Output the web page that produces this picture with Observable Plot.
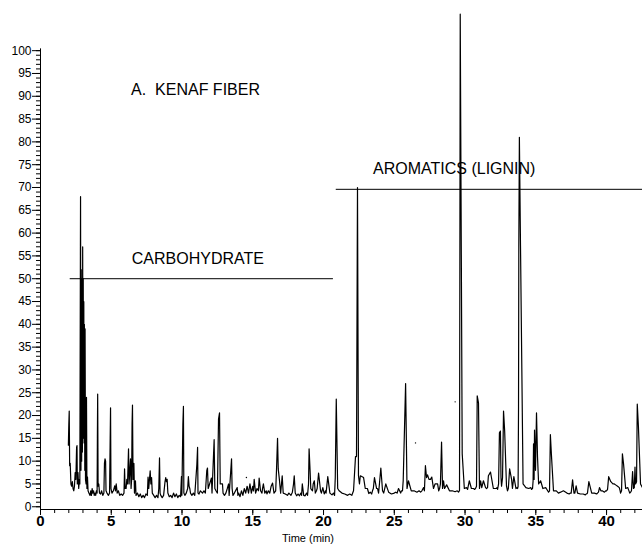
<!DOCTYPE html>
<html>
<head>
<meta charset="utf-8">
<script src="https://cdn.jsdelivr.net/npm/d3@7"></script>
<script src="https://cdn.jsdelivr.net/npm/@observablehq/plot@0.6"></script>
<style>
  html, body { margin: 0; padding: 0; background: #fff; }
  #chart svg { display: block; }
</style>
</head>
<body>
<div id="chart"></div>
<script>
// Chromatogram: retention time (min) and relative abundance (%)
const time = [
  1.97, 2.0, 2.03, 2.06, 2.1, 2.15, 2.2, 2.25, 2.3, 2.35, 2.4, 2.45, 2.5, 2.55, 2.58, 2.6, 2.65, 2.7, 2.75,
  2.78, 2.83, 2.86, 2.88, 2.91, 2.93, 2.96, 2.98, 3.0, 3.02, 3.04, 3.06, 3.08, 3.1, 3.13, 3.15, 3.18, 3.22, 3.25, 3.28,
  3.32, 3.36, 3.42, 3.5, 3.55, 3.6, 3.65, 3.7, 3.75, 3.8, 3.85, 3.9, 3.95, 4.0, 4.02, 4.04, 4.07, 4.12, 4.17, 4.25,
  4.32, 4.4, 4.48, 4.52, 4.56, 4.6, 4.63, 4.7, 4.8, 4.88, 4.92, 4.95, 4.98, 5.05, 5.15, 5.25, 5.3, 5.35, 5.42, 5.5,
  5.6, 5.7, 5.8, 5.9, 5.94, 5.98, 6.05, 6.1, 6.15, 6.22, 6.26, 6.36, 6.4, 6.44, 6.47, 6.5, 6.54, 6.6, 6.64, 6.71,
  6.75, 6.85, 6.95, 7.05, 7.15, 7.25, 7.35, 7.45, 7.55, 7.6, 7.65, 7.7, 7.75, 7.8, 7.85, 7.9, 8.0, 8.1, 8.2, 8.3,
  8.36, 8.41, 8.45, 8.5, 8.6, 8.7, 8.8, 8.85, 8.9, 8.95, 9.0, 9.1, 9.2, 9.3, 9.4, 9.5, 9.6, 9.7, 9.8, 9.9,
  9.96, 9.99, 10.06, 10.1, 10.13, 10.2, 10.3, 10.4, 10.45, 10.5, 10.55, 10.6, 10.7, 10.8, 10.9, 11.05, 11.1, 11.13,
  11.2, 11.3, 11.45, 11.55, 11.65, 11.75, 11.8, 11.85, 11.95, 12.08, 12.12, 12.27, 12.32, 12.4, 12.5, 12.58, 12.65,
  12.7, 12.78, 12.86, 12.9, 13.0, 13.1, 13.2, 13.29, 13.33, 13.5, 13.54, 13.6, 13.7, 13.9, 13.95, 14.0, 14.1, 14.2,
  14.3, 14.4, 14.5, 14.6, 14.7, 14.75, 14.8, 14.9, 15.0, 15.05, 15.1, 15.2, 15.3, 15.4, 15.45, 15.55, 15.65, 15.69,
  15.75, 15.85, 15.95, 16.0, 16.1, 16.2, 16.3, 16.4, 16.5, 16.62, 16.68, 16.75, 16.8, 16.88, 16.97, 17.03, 17.08,
  17.15, 17.3, 17.45, 17.55, 17.7, 17.8, 17.88, 17.93, 18.0, 18.1, 18.2, 18.3, 18.4, 18.45, 18.5, 18.6, 18.7, 18.8,
  18.87, 18.94, 18.98, 19.05, 19.1, 19.22, 19.27, 19.35, 19.42, 19.5, 19.55, 19.65, 19.79, 19.85, 19.95, 20.05,
  20.14, 20.18, 20.3, 20.45, 20.6, 20.7, 20.78, 20.83, 20.9, 21.0, 21.1, 21.3, 21.5, 21.7, 21.85, 22.0, 22.06,
  22.12, 22.26, 22.33, 22.4, 22.47, 22.54, 22.6, 22.83, 22.95, 23.1, 23.2, 23.3, 23.4, 23.46, 23.52, 23.6, 23.75,
  23.82, 23.89, 23.95, 24.05, 24.17, 24.25, 24.4, 24.6, 24.8, 25.0, 25.1, 25.2, 25.3, 25.45, 25.51, 25.58, 25.63,
  25.8, 25.9, 26.0, 26.2, 26.4, 26.6, 26.75, 26.86, 26.95, 27.07, 27.13, 27.2, 27.28, 27.35, 27.45, 27.56, 27.65,
  27.77, 27.88, 28.06, 28.14, 28.2, 28.26, 28.34, 28.41, 28.48, 28.55, 28.7, 28.9, 29.1, 29.3, 29.45, 29.54, 29.61,
  29.66, 29.8, 29.95, 30.1, 30.18, 30.3, 30.45, 30.6, 30.68, 30.74, 30.81, 30.86, 30.95, 31.02, 31.1, 31.18, 31.3,
  31.45, 31.52, 31.59, 31.65, 31.8, 32.0, 32.2, 32.26, 32.3, 32.37, 32.43, 32.5, 32.54, 32.58, 32.65, 32.72, 32.8,
  32.93, 33.0, 33.06, 33.15, 33.29, 33.35, 33.45, 33.6, 33.67, 33.71, 33.75, 33.78, 33.8, 33.84, 33.92, 34.1, 34.3,
  34.5, 34.65, 34.7, 34.77, 34.81, 34.84, 34.88, 34.91, 34.98, 35.05, 35.12, 35.2, 35.34, 35.5, 35.7, 35.84, 35.9,
  35.97, 36.03, 36.1, 36.25, 36.45, 36.6, 36.75, 36.95, 37.2, 37.36, 37.43, 37.5, 37.6, 37.7, 37.76, 37.85, 37.95,
  38.15, 38.35, 38.5, 38.55, 38.59, 38.65, 38.75, 38.95, 39.15, 39.3, 39.36, 39.43, 39.5, 39.6, 39.7, 39.85, 39.95,
  40.0, 40.07, 40.15, 40.3, 40.45, 40.55, 40.64, 40.78, 40.9, 40.96, 40.99, 41.06, 41.12, 41.2, 41.35, 41.5, 41.64,
  41.7, 41.76, 41.84, 41.9, 41.96, 42.01, 42.05, 42.12, 42.17, 42.25, 42.4, 42.54
];
const abundance = [
  13.5, 18, 21, 9, 9.5, 5, 4.5, 5.5, 4, 3.5, 4.5, 7.5, 6, 13, 13.4, 5, 7.5, 4, 6,
  5, 68, 8, 52, 10, 50, 12, 57, 15, 50, 18, 45, 14, 40, 8, 39, 6, 5, 24, 4,
  6.5, 3.5, 3, 2.5, 3.5, 2.5, 4, 3, 3.5, 2.5, 3, 2.5, 3.5, 3, 15, 24.7, 4.5, 5, 3, 2.8,
  3.5, 2.5, 3, 9.5, 10.5, 10, 3.5, 3, 2.5, 3, 14, 21.7, 4, 3, 3.5, 4.6, 3.5, 5, 3, 3.5,
  2.5, 2.8, 2.5, 3, 8.3, 4, 4, 6, 5, 12.7, 5, 10.5, 4, 6, 18, 22.3, 6, 9.5, 3, 5.7,
  2.5, 3, 2.2, 2.8, 2, 2.5, 2, 2.8, 2.5, 6.5, 4, 6, 7.9, 5, 6.4, 3, 2.5, 2, 2.5, 2,
  4, 10.7, 3, 2.5, 2, 2.5, 5.5, 6.4, 5.5, 6, 3, 2.2, 2.5, 2, 3, 2.2, 2.8, 2, 2.5, 2.2,
  6.6, 2.5, 18, 22, 3, 2.5, 3, 4, 6.6, 4.5, 4, 3, 2.5, 3, 2.5, 9.3, 13, 3,
  2.8, 3.5, 3, 3.5, 3, 7.9, 8.5, 4, 5, 6.3, 3, 14.7, 4, 3.5, 3, 19.2, 20.6,
  5, 5, 5, 3, 2.5, 3, 4, 5, 2.5, 10.5, 4, 2.5, 3, 4.2, 2.5, 3, 2.2, 3.5, 2.5,
  4, 3, 4.5, 3, 4, 5, 3, 4.5, 3.5, 6, 3, 4, 3.5, 6.3, 3.5, 3, 4, 5,
  3, 3.5, 2.8, 3.5, 3, 4.5, 5.2, 3, 3.5, 8.3, 15, 8.3, 6, 3, 5, 6.8, 3,
  2.8, 2.5, 3, 2.5, 3.2, 5, 6.8, 3, 2.4, 2.8, 2.4, 3, 2.5, 5, 2.5, 2.4, 3, 2.5, 5,
  12.7, 7.9, 4, 3.5, 5, 5.7, 3, 3.5, 4, 7.4, 3.5, 3, 4.2, 2.8, 3.5, 3,
  6.6, 3, 2.6, 3, 2.5, 6.4, 23.6, 4, 3.5, 3, 2.8, 2.5, 2.8, 2.5, 3, 3.5, 11,
  11, 70, 6.8, 5, 6.8, 6.4, 4, 4, 2.9, 3.2, 2.8, 3.5, 4, 6.4, 4, 4, 3,
  5, 8.5, 3.5, 3, 5, 3.2, 2.8, 3, 3.2, 3, 4, 3, 3.5, 3.5, 5.7, 27, 4,
  5.7, 3.5, 3.5, 3.2, 3.5, 3.2, 3.5, 4.2, 3.5, 9, 6.4, 7, 6, 6, 6.5, 4, 5,
  5, 3.5, 4, 5, 14.2, 4, 5.7, 4, 4.8, 3.5, 3.5, 3.3, 3.5, 3.2, 3.6, 108, 11.6,
  4, 4.2, 3.8, 5.7, 4, 4, 3.8, 4, 4.5, 24.3, 22.8, 4, 5.7, 4.2, 5.7, 4.2, 4,
  4.2, 6.8, 7.6, 4, 4, 4.2, 3.8, 5, 16.2, 16.6, 6.4, 4.5, 6.4, 21, 16.6, 4.5, 3.5,
  4, 8.3, 6, 4, 6.6, 4, 4.2, 4, 4.5, 22, 57, 81, 57, 5, 4.2, 4, 4.2,
  3.8, 4, 5.7, 13.8, 6, 16.8, 8, 20.6, 11, 5, 5.7, 4, 4.2, 3.5, 3.2, 3.5, 15.8,
  11.6, 3.5, 3.5, 3, 3.2, 3.5, 3, 2.8, 3, 3, 5.9, 3, 3, 4.6, 3, 2.8, 2.8,
  2.6, 2.8, 2.8, 3, 5.5, 3, 3, 2.8, 3, 3.2, 4.2, 3.5, 3.5, 3.2, 3.5, 3.5, 3.8,
  6.6, 5.5, 5, 5, 4.8, 4.5, 4.2, 3.5, 3, 3.5, 11.6, 9.4, 4, 4.2, 3, 3.2, 3.5,
  7.7, 4, 4.2, 8.7, 5, 5.5, 22.5, 17.7, 5, 4.2, 4.5, 3.5
];

// Stray specks visible in the scan
const speckTime = [14.55, 26.5, 29.3];
const speckValue = [6.4, 14, 23];

// Axis ticks
const yMajor = d3.range(0, 101, 5);
const yMinor = d3.range(0, 101, 1);
const xMajor = d3.range(0, 41, 5);
const xMinor = d3.range(0, 43, 1);

// Annotations
const titleText = "A.  KENAF FIBER";
const groupLabels = ["CARBOHYDRATE", "AROMATICS (LIGNIN)"];
const groupStart = [2.1, 20.9];
const groupEnd = [20.7, 42.54];
const groupLevel = [50, 69.6];
const groupLabelStart = [6.45, 23.5];
const xLabel = "Time (min)";

const signal = time.map((t, i) => ({t, v: abundance[i]}));
const specks = speckTime.map((t, i) => ({t, v: speckValue[i]}));
const groups = groupLabels.map((name, i) => ({name, x1: groupStart[i], x2: groupEnd[i], y: groupLevel[i], lx: groupLabelStart[i]}));

const chart = Plot.plot({
  width: 642,
  height: 544,
  marginLeft: 40,
  marginRight: 0,
  marginTop: 0,
  marginBottom: 35,
  x: {domain: [0, 42.54]},
  y: {domain: [-0.6, 111]},
  style: {fontFamily: "'Liberation Sans', Arial, sans-serif", color: "#000", background: "#fff"},
  marks: [
    Plot.axisY(yMinor, {anchor: "left", tickSize: 4, text: null, label: null}),
    Plot.axisY(yMajor, {anchor: "left", tickSize: 8, tickPadding: 1, fontSize: 12, label: null}),
    Plot.axisX(xMinor, {anchor: "bottom", tickSize: 4, text: null, label: null}),
    Plot.axisX(xMajor, {anchor: "bottom", tickSize: 6, tickPadding: 0, fontSize: 15, fontWeight: "bold", label: null}),
    Plot.ruleX([0], {y1: -0.6, y2: 100.4, stroke: "#000"}),
    Plot.ruleY([-0.6], {stroke: "#000"}),
    Plot.line(signal, {x: "t", y: "v", stroke: "#000", strokeWidth: 1.2}),
    Plot.dot(specks, {x: "t", y: "v", r: 0.7, fill: "#000", stroke: null}),
    Plot.ruleY(groups, {x1: "x1", x2: "x2", y: "y", stroke: "#000", strokeWidth: 1}),
    Plot.text(groups, {x: "lx", y: "y", dy: -20, text: "name", textAnchor: "start", fontSize: 16}),
    Plot.text([titleText], {x: 6.4, y: 91.5, text: (d) => d, textAnchor: "start", fontSize: 16}),
    Plot.text([xLabel], {x: 18.9, y: -0.6, dy: 29, text: (d) => d, fontSize: 11})
  ]
});
document.getElementById("chart").append(chart);
</script>
</body>
</html>
